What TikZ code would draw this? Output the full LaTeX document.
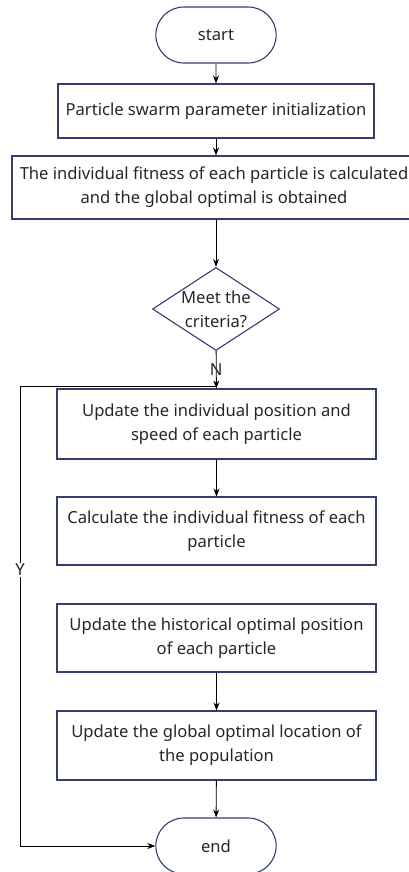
\documentclass[tikz,border=0pt]{standalone}
\usepackage{fontspec}
\setmainfont{Noto Sans}
\usetikzlibrary{arrows.meta,shapes.geometric,shapes.misc}
\definecolor{boxline}{RGB}{52,62,112}
\begin{document}
\begin{tikzpicture}[x=1pt,y=-1pt,>={Stealth[length=8pt,width=6pt]},
  every node/.style={font=\fontsize{16.6}{24}\selectfont,align=center,text=black!85},
  box/.style={draw=boxline,line width=1.1pt,rectangle,inner sep=2pt},
  term/.style={draw=boxline,line width=1.1pt,rounded rectangle,minimum width=127,minimum height=56},
  flow/.style={->,line width=0.9pt}]
\useasboundingbox (0,0) rectangle (409,872);
\node[term] (start) at (216,35) {start};
\node[box,minimum width=316,minimum height=54] (init) at (216,111) {Particle swarm parameter initialization};
\node[box,minimum width=404,minimum height=63] (fit) at (214,187.5) {The individual fitness of each particle is calculated\\and the global optimal is obtained};
\node[box,diamond,inner sep=0pt,aspect=1.53,minimum width=127,minimum height=83] (crit) at (216,309) {Meet the\\criteria?};
\node[box,minimum width=319,minimum height=70] (upd) at (216.5,424) {Update the individual position and\\speed of each particle};
\node[box,minimum width=319,minimum height=68] (calc) at (216.5,531) {Calculate the individual fitness of each\\particle};
\node[box,minimum width=319,minimum height=68] (hist) at (216.5,638) {Update the historical optimal position\\of each particle};
\node[box,minimum width=319,minimum height=69] (glob) at (216.5,745.5) {Update the global optimal location of\\the population};
\node[term] (end) at (216,846) {end};
\coordinate (turn) at (20,386);
\draw[flow](start)--(init);
\draw[flow](init)--(init|-fit.north);
\draw[flow](init|-fit.south)--(crit);
\draw[flow](crit)--node[pos=0.5]{N}(upd);
\draw[flow](upd)--(calc);
\draw[flow](hist)--(glob);
\draw[flow](glob)--(end);
\draw[flow](crit.south|-turn)--(turn)|-node[pos=0.2,fill=white,inner sep=1pt]{Y}(end.west);
\end{tikzpicture}
\end{document}
